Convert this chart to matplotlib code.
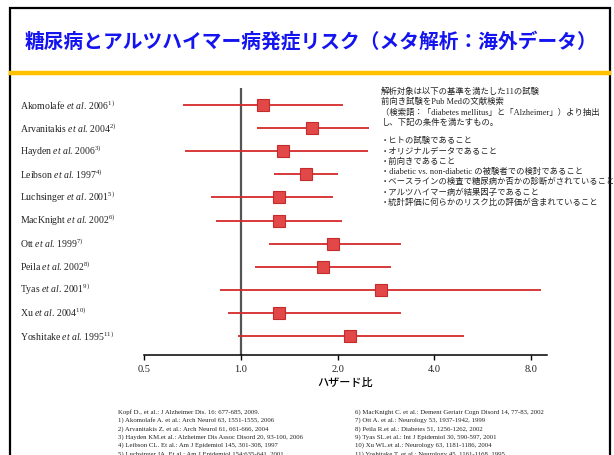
import matplotlib
matplotlib.use("Agg")
import matplotlib.pyplot as plt
import matplotlib.patches as patches
import matplotlib.transforms as transforms
from matplotlib.ticker import FixedLocator, NullLocator

plt.rcParams['font.family'] = ['Liberation Serif', 'Noto Sans CJK JP']
plt.rcParams['mathtext.fontset'] = 'custom'
plt.rcParams['mathtext.rm'] = 'Liberation Serif'
plt.rcParams['mathtext.it'] = 'Liberation Serif:italic'

# 試験ごとのハザード比と95%信頼区間
studies = ['Akomolafe', 'Arvanitakis', 'Hayden', 'Leibson', 'Luchsinger', 'MacKnight',
           'Ott', 'Peila', 'Tyas', 'Xu', 'Yoshitake']
years = [2006, 2004, 2006, 1997, 2001, 2002, 1999, 2002, 2001, 2004, 1995]
hr = [1.17, 1.67, 1.35, 1.60, 1.31, 1.31, 1.93, 1.80, 2.73, 1.31, 2.19]
ci_low = [0.66, 1.12, 0.67, 1.27, 0.81, 0.84, 1.22, 1.11, 0.86, 0.91, 0.98]
ci_high = [2.08, 2.51, 2.49, 2.00, 1.93, 2.06, 3.14, 2.92, 8.57, 3.14, 4.95]

xticks = [0.5, 1.0, 2.0, 4.0, 8.0]
xticklabels = ['0.5', '1.0', '2.0', '4.0', '8.0']

title = '糖尿病とアルツハイマー病発症リスク（メタ解析：海外データ）'
notes = [
    '解析対象は以下の基準を満たした11の試験',
    '前向き試験をPub Medの文献検索',
    '（検索語：「diabetes mellitus」と「Alzheimer」）より抽出',
    'し、下記の条件を満たすもの。',
    '',
    '・ヒトの試験であること',
    '・オリジナルデータであること',
    '・前向きであること',
    '・diabetic vs. non-diabetic の被験者での検討であること',
    '・ベースラインの検査で糖尿病か否かの診断がされていること',
    '・アルツハイマー病が結果因子であること',
    '・統計評価に何らかのリスク比の評価が含まれていること',
]
refs_left = [
    'Kopf D., et al.: J Alzheimer Dis. 16: 677-685, 2009.',
    '1) Akomolafe A. et al.: Arch Neurol 63, 1551-1555, 2006',
    '2) Arvanitakis Z. et al.: Arch Neurol 61, 661-666, 2004',
    '3) Hayden KM.et al.: Alzheimer Dis Assoc Disord 20, 93-100, 2006',
    '4) Leibson CL. Et al.: Am J Epidemiol 145, 301-308, 1997',
    '5) Luchsinger JA. Et al.: Am J Epidemiol 154:635-641, 2001',
]
refs_right = [
    '6) MacKnight C. et al.: Dement Geriatr Cogn Disord 14, 77-83, 2002',
    '7) Ott A. et al.: Neurology 53, 1937-1942, 1999',
    '8) Peila R.et al.: Diabetes 51, 1256-1262, 2002',
    '9) Tyas SL.et al.: Int J Epidemiol 30, 590-597, 2001',
    '10) Xu WL.et al.: Neurology 63, 1181-1186, 2004',
    '11) Yoshitake T. et al.: Neurology 45, 1161-1168, 1995',
]

W, H = 614, 455
fig = plt.figure(figsize=(W / 100, H / 100), dpi=100)

# 枠と見出し
fig.add_artist(patches.Rectangle((10 / W, -0.1), 600 / W, 1.1 - 8 / H, transform=fig.transFigure,
                                 fill=False, edgecolor='black', linewidth=1.6))
fig.add_artist(plt.Line2D([11 / W, 609 / W], [1 - 73 / H, 1 - 73 / H], transform=fig.transFigure,
                          color='#ffc000', linewidth=3.2))
fig.text(311 / W, 1 - 42 / H, title, family='Noto Sans CJK JP', weight='bold',
         fontsize=14.2, color='#1414f0', ha='center', va='center')

# フォレストプロット
ax = fig.add_axes([144 / W, 1 - 354.7 / H, 403 / W, (354.7 - 88) / H])
ax.set_xscale('log', base=2)
n = len(studies)
ypos = [n - i for i in range(n)]
for y, h, lo, hi in zip(ypos, hr, ci_low, ci_high):
    ax.plot([lo, hi], [y, y], color='#d42a2a', linewidth=1.3, solid_capstyle='butt', zorder=2)
    ax.plot([h], [y], marker='s', markersize=8.5, markerfacecolor='#e24848',
            markeredgecolor='#c42c2c', markeredgewidth=0.8, zorder=3)
ax.axvline(1.0, color='#555555', linewidth=1.6, zorder=1)

ax.set_xlim(0.5, 8.95)
ax.set_ylim(0.19, 11.74)
for s in ['top', 'right', 'left']:
    ax.spines[s].set_visible(False)
ax.spines['bottom'].set_linewidth(1.1)
ax.spines['bottom'].set_bounds(0.5, 8.95)
ax.xaxis.set_major_locator(FixedLocator(xticks))
ax.xaxis.set_minor_locator(NullLocator())
ax.set_xticklabels(xticklabels, fontsize=7.5, color='#222222')
ax.tick_params(axis='x', length=3.5, width=1, pad=4)
ax.set_yticks([])
ax.set_xlabel('ハザード比', family='Noto Sans CJK JP', fontsize=8, weight='medium', labelpad=3)

# 試験名
trans = transforms.blended_transform_factory(fig.transFigure, ax.transData)
for i, (name, yr) in enumerate(zip(studies, years)):
    label = name + r' $\mathit{et\ al}$. ' + str(yr) + r'$^{\mathrm{' + str(i + 1) + ')}}$'
    ax.text(20 / W, ypos[i], label, transform=trans, fontsize=7, color='#222222',
            ha='left', va='center', clip_on=False)

# 解析条件
ny = 92
for line in notes:
    if line:
        fig.text(381 / W, 1 - ny / H, line, fontsize=6, color='#222222', ha='left', va='center')
    ny += 10.2 if line else 8.6

# 文献
for k, (l, r) in enumerate(zip(refs_left, refs_right)):
    yy = 1 - (412 + 8.4 * k) / H
    fig.text(118 / W, yy, l, fontsize=4.85, color='#222222', ha='left', va='center')
    fig.text(355 / W, yy, r, fontsize=4.85, color='#222222', ha='left', va='center')

fig.savefig('out.png', dpi=100)
